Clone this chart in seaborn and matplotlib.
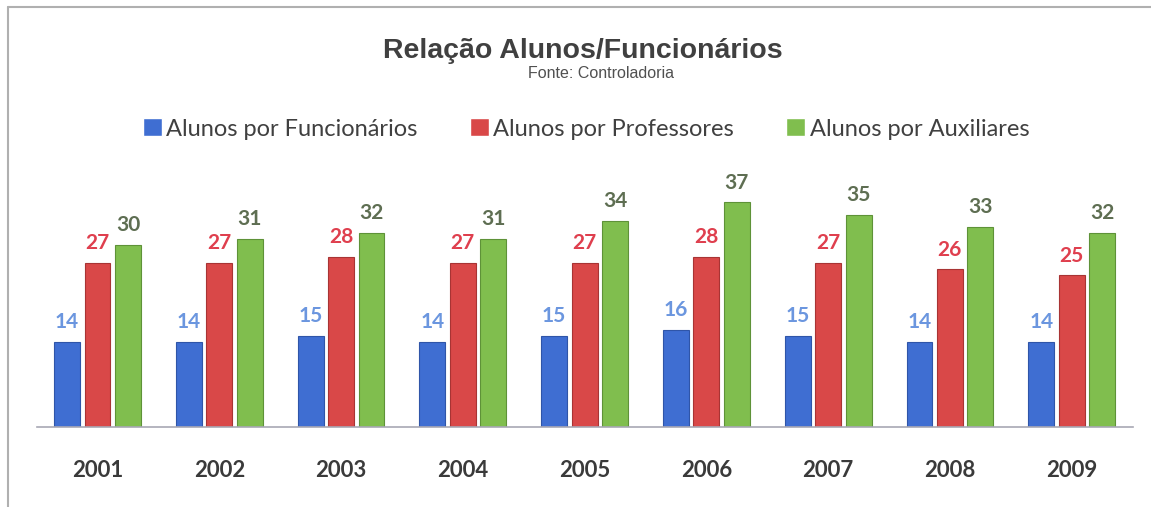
import matplotlib
matplotlib.use("Agg")
import matplotlib.pyplot as plt
from matplotlib.lines import Line2D
import seaborn as sns
import pandas as pd

anos = ["2001", "2002", "2003", "2004", "2005", "2006", "2007", "2008", "2009"]
series = ["Alunos por Funcionários", "Alunos por Professores", "Alunos por Auxiliares"]
funcionarios = [14, 14, 15, 14, 15, 16, 15, 14, 14]
professores = [27, 27, 28, 27, 27, 28, 27, 26, 25]
auxiliares = [30, 31, 32, 31, 34, 37, 35, 33, 32]

bar_colors = ["#3F6ED2", "#D94848", "#80BE4E"]
edge_colors = ["#2F55A8", "#A83434", "#5E9238"]
label_colors = ["#6B96DF", "#DF3F4E", "#5E6E52"]

df = pd.DataFrame({
    "Ano": anos * 3,
    "Série": [series[0]] * 9 + [series[1]] * 9 + [series[2]] * 9,
    "Valor": funcionarios + professores + auxiliares,
})

sns.set_theme(style="white")
plt.rcParams["font.family"] = ["Lato", "DejaVu Sans"]

fig = plt.figure(figsize=(11.51, 5.07), dpi=100)
ax = fig.add_axes([36.6 / 1151, 80 / 507, 1096 / 1151, 267 / 507])

sns.barplot(data=df, x="Ano", y="Valor", hue="Série", palette=bar_colors, saturation=1,
            width=0.75, gap=0.15, errorbar=None, ax=ax, legend=True)

for i, cont in enumerate(ax.containers):
    for p in cont.patches:
        p.set_edgecolor(edge_colors[i])
        p.set_linewidth(0.8)
    ax.bar_label(cont, fmt="%d", padding=7, fontsize=15, fontweight="bold",
                 color=label_colors[i], family=["Lato", "DejaVu Sans"])

ax.set_xlim(-0.5, 8.5)
ax.set_ylim(0, 44)
ax.set_xlabel("")
ax.set_ylabel("")
ax.set_yticks([])
for s in ["left", "right", "top"]:
    ax.spines[s].set_visible(False)
ax.spines["bottom"].set_color("#A8A8B4")
ax.spines["bottom"].set_linewidth(1.2)
ax.tick_params(axis="x", length=0, pad=24, labelsize=16, labelcolor="#3A3A3A")
for t in ax.get_xticklabels():
    t.set_fontweight("bold")

handles, labels = ax.get_legend_handles_labels()
ax.get_legend().remove()
leg = fig.legend(handles, labels, loc="center", bbox_to_anchor=(586 / 1151, 1 - 129 / 507),
                 ncol=3, frameon=False, fontsize=17, handlelength=0.8, handleheight=0.8,
                 handletextpad=0.2, columnspacing=2.2, labelcolor="#404040")

fig.text(583 / 1151, 1 - 51 / 507, "Relação Alunos/Funcionários", ha="center", va="center",
         fontsize=20.5, fontweight="bold", color="#404040", family=["Liberation Sans", "DejaVu Sans"])
fig.text(601 / 1151, 1 - 74 / 507, "Fonte: Controladoria", ha="center", va="center",
         fontsize=11.5, color="#505050", family=["Liberation Sans", "DejaVu Sans"])

fig.add_artist(Line2D([8 / 1151, 1.0], [1 - 7 / 507, 1 - 7 / 507], transform=fig.transFigure,
                      color="#B0B0B0", linewidth=1.5))
fig.add_artist(Line2D([8 / 1151, 8 / 1151], [1 - 7 / 507, 0.0], transform=fig.transFigure,
                      color="#B0B0B0", linewidth=1.5))

fig.savefig("out.png", dpi=100)
